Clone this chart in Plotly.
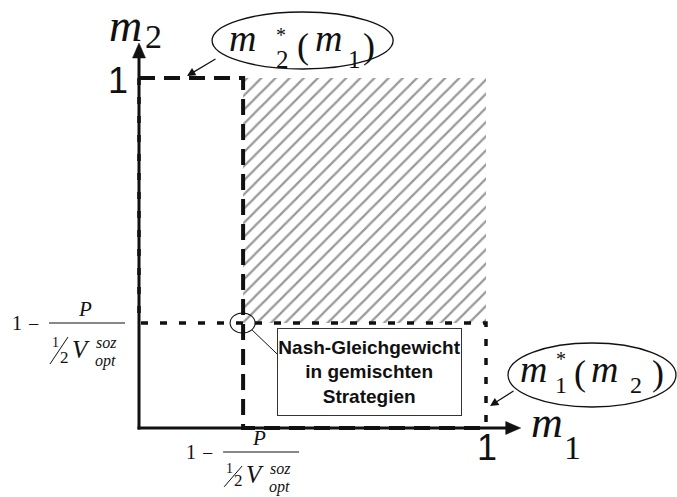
import plotly.graph_objects as go

# ---------------- values ----------------
# critical probability 1 - P / (1/2 V_opt^soz), drawn symbolically on both axes
threshold = 0.3
axis_end = 1.1

# best response of player 2: m2*(m1)
m2_best_x = [0, threshold, threshold, 1]
m2_best_y = [1, 1, 0, 0]
# best response of player 1: m1*(m2)
m1_best_x = [0, 0, 1, 1]
m1_best_y = [1, threshold, threshold, 0]
# hatched region above/right of the equilibrium
region_x = [threshold, 1, 1, threshold, threshold]
region_y = [threshold, threshold, 1, 1, threshold]

tick_labels = ["1", "1"]
box_lines = ["Nash-Gleichgewicht", "in gemischten", "Strategien"]

# ---------------- canvas / scale ----------------
W, H = 677, 497
ORIGIN = (139, 428)   # pixel position of (0, 0)
UNIT = (347, 350)     # pixels per unit on x and y
x_range = [-ORIGIN[0] / UNIT[0], (W - ORIGIN[0]) / UNIT[0]]
y_range = [-(H - ORIGIN[1]) / UNIT[1], ORIGIN[1] / UNIT[1]]

SERIF = "Liberation Serif, Times New Roman, serif"
SANS = "Liberation Sans, Arial, sans-serif"
NARROW = "Liberation Sans Narrow, Arial Narrow, Liberation Sans, sans-serif"
INK = "#111111"

annotations = []
shapes = []


def text(xa, ya, s, size, dx=0, dy=0, family=SERIF, italic=False):
    if italic:
        s = f"<i>{s}</i>"
    annotations.append(dict(
        x=xa, y=ya, xref="x", yref="y", text=s, showarrow=False,
        xanchor="center", yanchor="middle", xshift=dx, yshift=dy,
        font=dict(family=family, size=size, color=INK)))


def px_shape(kind, xa, ya, x0, y0, x1, y1, width=1.0, **kw):
    shapes.append(dict(
        type=kind, xref="x", yref="y", xsizemode="pixel", ysizemode="pixel",
        xanchor=xa, yanchor=ya, x0=x0, y0=y0, x1=x1, y1=y1,
        line=dict(color=INK, width=width), **kw))


def px_path(xa, ya, path):
    shapes.append(dict(
        type="path", xref="x", yref="y", xsizemode="pixel", ysizemode="pixel",
        xanchor=xa, yanchor=ya, path=path, fillcolor=INK,
        line=dict(color=INK, width=0.5)))


def pointer(xa, ya, dx, dy, ax, ay):
    annotations.append(dict(
        x=xa, y=ya, xref="x", yref="y", text="", showarrow=True,
        xshift=dx, yshift=dy, ax=ax, ay=ay, arrowhead=2, arrowsize=1.4,
        arrowwidth=1.2, arrowcolor=INK))


def fraction_label(xa, ya, bx, by, depth=1.0):
    """1 - P / (1/2 V_opt^soz) with its fraction bar centred at (bx, by) px.
    depth scales how far the denominator hangs below the bar."""
    text(xa, ya, "1", 20, bx - 70, by)
    text(xa, ya, "\u2212", 20, bx - 54, by - 1)
    text(xa, ya, "P", 21, bx - 2, by + 14, italic=True)
    px_shape("line", xa, ya, bx - 38, by, bx + 38, by, width=1.1)
    # 1/2 written as a stacked fraction
    text(xa, ya, "1", 14, bx - 32, by - 19 * depth)
    px_shape("line", xa, ya, bx - 37, by - 41 * depth, bx - 19, by - 14, width=1.0)
    text(xa, ya, "2", 17, bx - 23, by - 34 * depth)
    text(xa, ya, "V", 25, bx - 6, by - 26 * depth, italic=True)
    text(xa, ya, "soz", 16, bx + 19, by - 19 * depth, italic=True)
    text(xa, ya, "opt", 16, bx + 18, by - 19 * depth - 19, italic=True)


def best_response_label(xa, ya, cx, cy, rx, ry, glyphs):
    px_shape("circle", xa, ya, cx - rx, cy - ry, cx + rx, cy + ry, width=1.3,
             fillcolor="rgba(0,0,0,0)")
    for s, size, gx, gy, it in glyphs:
        text(xa, ya, s, size, cx + gx, cy + gy, italic=it)


fig = go.Figure()

# hatched area
fig.add_trace(go.Scatter(
    x=region_x, y=region_y, mode="lines", fill="toself",
    line=dict(width=0), fillcolor="white",
    fillpattern=dict(shape="/", size=10, solidity=0.22,
                     fgcolor="#333333", bgcolor="white"),
    hoverinfo="skip"))

# m1*(m2): short dashes
fig.add_trace(go.Scatter(
    x=m1_best_x, y=m1_best_y, mode="lines",
    line=dict(color=INK, width=3.5, dash="7px,12px"), hoverinfo="skip"))

# m2*(m1): long dashes
fig.add_trace(go.Scatter(
    x=m2_best_x, y=m2_best_y, mode="lines",
    line=dict(color=INK, width=4, dash="16px,9px"), hoverinfo="skip"))

# axes with arrow heads
head = 15
shapes.append(dict(type="line", xref="x", yref="y", x0=0, y0=-1.5 / UNIT[1],
                   x1=0, y1=axis_end - (head - 1) / UNIT[1],
                   line=dict(color=INK, width=3)))
shapes.append(dict(type="line", xref="x", yref="y", x0=-1.5 / UNIT[0], y0=0,
                   x1=axis_end - (head - 1) / UNIT[0], y1=0,
                   line=dict(color=INK, width=3)))
px_path(0, axis_end, f"M 0 0 L -6.5 -{head} L 6.5 -{head} Z")
px_path(axis_end, 0, f"M 0 0 L -{head} 6.5 L -{head} -6.5 Z")

# axis titles
text(0, axis_end, "m", 46, -14, 18, italic=True)
text(0, axis_end, "2", 34, 14, 7)
text(axis_end, 0, "m", 44, 26, 6, italic=True)
text(axis_end, 0, "1", 34, 52, -19)

# ticks at 1
text(0, 1, tick_labels[1], 36, -21, -2, family=SANS)
text(1, 0, tick_labels[0], 36, 1, -19, family=SANS)

# symbolic threshold labels
fraction_label(0, threshold, -52, 0)
fraction_label(threshold, 0, 18, -24, depth=0.85)

# m2*(m1) label in ellipse, pointing to the upper dashed segment
best_response_label(threshold, 1, 59.5, 37.5, 90.5, 28.5, [
    ("m", 38, -60, 3, True),
    ("*", 20, -21.5, 6, False),
    ("2", 25, -20.5, -19, False),
    ("(", 36, 0, -5, False),
    ("m", 38, 25.5, 3, True),
    ("1", 25, 51.5, -19, False),
    (")", 36, 66.5, -5, False),
])
pointer(0, 1, 48, 2, 30, -18)

# m1*(m2) label in ellipse, pointing to the right dotted segment
best_response_label(1, 0, 106, 53, 84, 32, [
    ("m", 38, -58.5, 6, True),
    ("*", 20, -31, 16, False),
    ("1", 24, -31, -10, False),
    ("(", 36, -12, 2, False),
    ("m", 38, 12.5, 6, True),
    ("2", 24, 43.5, -10, False),
    (")", 36, 66, 2, False),
])
pointer(1, 0, 4, 22, 25, -16)

# equilibrium marker and caption box
px_shape("circle", threshold, threshold, -13, -10, 12, 10, width=1.1,
         fillcolor="rgba(0,0,0,0)")
px_shape("line", threshold, threshold, 9, -7, 34, -31, width=1.0)
annotations.append(dict(
    x=threshold, y=threshold, xref="x", yref="y",
    text="<b>" + "<br>".join(box_lines) + "</b>", showarrow=False,
    xanchor="center", yanchor="middle", xshift=126.5, yshift=-49,
    width=183, height=86, align="center", valign="middle",
    bgcolor="white", bordercolor="#333333", borderwidth=1, borderpad=0,
    font=dict(family=NARROW, size=19, color=INK)))

fig.update_layout(
    width=W, height=H, margin=dict(l=0, r=0, t=0, b=0),
    paper_bgcolor="white", plot_bgcolor="white", showlegend=False,
    xaxis=dict(range=x_range, visible=False, fixedrange=True),
    yaxis=dict(range=y_range, visible=False, fixedrange=True),
    shapes=shapes, annotations=annotations)

fig.write_html("out.html")
